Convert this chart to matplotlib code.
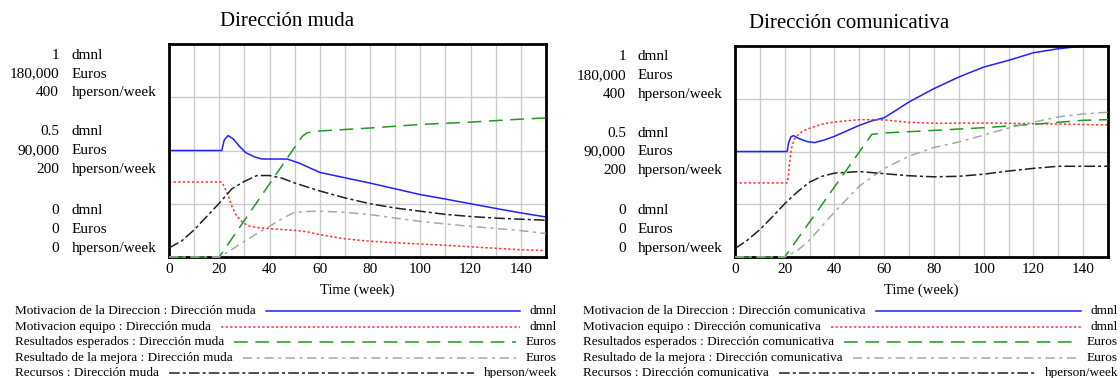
import matplotlib.pyplot as plt
from matplotlib import lines, transforms

plt.rcParams['font.family'] = ['Liberation Serif', 'DejaVu Serif']

# ---- data: Dirección muda ----
t_dir_muda = [0, 21, 22, 23.5, 25.5, 28, 30.5, 34, 37, 47, 52, 60, 70, 80, 90, 100, 110, 120, 130, 140, 150]
motiv_dir_muda = [0.5, 0.5, 0.55, 0.57, 0.555, 0.52, 0.49, 0.47, 0.46, 0.46, 0.44, 0.397, 0.372, 0.347,
                  0.32, 0.293, 0.272, 0.25, 0.228, 0.207, 0.188]
t_eq_muda = [0, 21, 22, 23.5, 25, 27, 29.5, 32, 36, 40, 50, 55, 60, 65, 70, 80, 90, 100, 110, 120, 130, 140, 150]
motiv_eq_muda = [0.352, 0.352, 0.33, 0.29, 0.238, 0.19, 0.16, 0.145, 0.137, 0.133, 0.125, 0.118, 0.105,
                 0.095, 0.085, 0.074, 0.067, 0.061, 0.055, 0.048, 0.041, 0.034, 0.03]
t_res_muda = [0, 20, 53, 55, 60, 80, 100, 120, 140, 150]
res_esp_muda = [0, 0, 102000, 105000, 106500, 109000, 112000, 114000, 116500, 117500]
t_mej_muda = [0, 20, 25, 30, 35, 40, 45, 50, 55, 60, 70, 80, 90, 100, 110, 120, 130, 140, 150]
res_mej_muda = [0, 0, 6300, 13300, 19800, 25900, 32400, 37800, 38500, 38700, 37800, 35800, 32900,
                30100, 27900, 25900, 24100, 22300, 19800]
t_rec_muda = [0, 5, 10, 15, 20, 25, 30, 35, 40, 45, 50, 60, 70, 80, 90, 100, 110, 120, 130, 140, 150]
recursos_muda = [17, 30, 51, 76, 101, 128, 142, 153, 153, 148, 139, 124, 111, 100, 92, 86, 80, 76, 73, 71, 69]

# ---- data: Dirección comunicativa ----
t_dir_com = [0, 21, 21.5, 22.5, 23.5, 26, 29, 32, 36, 40, 45, 50, 55, 60, 65, 70, 80, 90, 100, 110,
             120, 130, 140, 150]
motiv_dir_com = [0.5, 0.5, 0.54, 0.57, 0.575, 0.56, 0.547, 0.542, 0.555, 0.572, 0.598, 0.624, 0.645,
                 0.66, 0.697, 0.735, 0.798, 0.853, 0.9, 0.932, 0.968, 0.987, 1.0, 1.0]
t_eq_com = [0, 21, 21.5, 22, 22.5, 23, 24, 25, 27, 30, 35, 40, 50, 60, 70, 80, 100, 120, 150]
motiv_eq_com = [0.351, 0.351, 0.39, 0.45, 0.5, 0.53, 0.56, 0.575, 0.595, 0.61, 0.63, 0.64, 0.651,
                0.65, 0.638, 0.634, 0.635, 0.632, 0.626]
t_res_com = [0, 20, 55, 60, 80, 100, 120, 140, 150]
res_esp_com = [0, 0, 104600, 105800, 108000, 110300, 113200, 116600, 117200]
t_mej_com = [0, 20, 25, 30, 40, 50, 60, 70, 80, 90, 100, 110, 120, 130, 140, 150]
res_mej_com = [0, 0, 5400, 14500, 38300, 60500, 75500, 86000, 93500, 98100, 104000, 110000, 115000,
               119500, 122000, 123500]
t_rec_com = [0, 5, 10, 15, 20, 25, 30, 35, 40, 50, 60, 70, 80, 90, 100, 110, 120, 130, 140, 150]
recursos_com = [16, 32, 52, 76, 101, 123, 142, 153, 159, 162, 158, 154, 152, 153, 157, 163, 168, 172, 172, 172]

units = ['dmnl', 'Euros', 'hperson/week']
ticks_dmnl = [0, 0.5, 1]
ticks_euros = [0, 90000, 180000]
ticks_hperson = [0, 200, 400]

var_names = ['Motivacion de la Direccion', 'Motivacion equipo', 'Resultados esperados',
             'Resultado de la mejora', 'Recursos']
var_units = ['dmnl', 'dmnl', 'Euros', 'Euros', 'hperson/week']
colors = ['#2020ff', '#ff3030', '#229922', '#a8a8a8', '#202020']
styles = ['-', (0, (1.5, 1.5)), (0, (9, 5)), (0, (6, 3, 2, 3)), (0, (7, 2, 2, 2))]

W, H = 1120, 378
fig = plt.figure(figsize=(11.2, 3.78), dpi=100)


def fx(px):
    return px / W


def fy(py):
    return 1 - py / H


def panel(rect, title, title_xy, num_x, unit_x, time_x, leg_x0, leg_x1, series, scen):
    ax = fig.add_axes(rect)
    ax_e = ax.twinx()
    ax_h = ax.twinx()
    ax.set_xlim(0, 150)
    ax.set_ylim(0, 1)
    ax_e.set_ylim(0, 180000)
    ax_h.set_ylim(0, 400)
    for a in (ax_e, ax_h):
        a.set_axis_off()
    ax.set_xticks(range(0, 151, 10), minor=True)
    ax.set_xticks(range(0, 141, 20))
    ax.set_yticks([0.25, 0.5, 0.75])
    ax.set_yticklabels([])
    ax.tick_params(axis='y', length=0)
    ax.tick_params(axis='x', which='both', length=0, labelsize=11, pad=4)
    ax.grid(True, which='both', color='#cccccc', lw=1)
    for s in ax.spines.values():
        s.set_linewidth(2)
        s.set_color('black')

    targets = [ax, ax, ax_e, ax_e, ax_h]
    for (t, v), a, c, ls in zip(series, targets, colors, styles):
        a.plot(t, v, color=c, linestyle=ls, lw=1.1, clip_on=False)

    fig.text(title_xy[0], title_xy[1], title, ha='center', va='center', fontsize=15)

    # stacked axis labels
    trans = transforms.blended_transform_factory(fig.transFigure, ax.transAxes)
    centers = [0.131, 0.498, 0.859]
    for i, c in enumerate(centers):
        vals = [ticks_dmnl[i], ticks_euros[i], ticks_hperson[i]]
        for j, (val, u) in enumerate(zip(vals, units)):
            yy = c + (1 - j) * 0.089
            txt = '{:,}'.format(val) if val != 0.5 else '0.5'
            fig.text(fx(num_x), yy, txt, transform=trans, ha='right', va='center', fontsize=11)
            fig.text(fx(unit_x), yy, u, transform=trans, ha='left', va='center', fontsize=11)

    fig.text(fx(time_x), fy(290), 'Time (week)', ha='center', va='center', fontsize=10.5)

    # legend rows
    rows_y = [311, 327, 342, 358, 373]
    fig.canvas.draw()
    r = fig.canvas.get_renderer()
    for name, u, c, ls, y in zip(var_names, var_units, colors, styles, rows_y):
        lab = fig.text(fx(leg_x0), fy(y), name + ' : ' + scen, ha='left', va='center', fontsize=9.5)
        ut = fig.text(fx(leg_x1), fy(y), u, ha='right', va='center', fontsize=9.5)
        b1 = lab.get_window_extent(r)
        b2 = ut.get_window_extent(r)
        x0 = b1.x1 + 10
        x1 = b2.x0 - 10
        fig.add_artist(lines.Line2D([x0 / W, x1 / W], [fy(y), fy(y)], color=c, linestyle=ls,
                                    lw=1.1, transform=fig.transFigure))


panel([fx(169), fy(257), fx(546) - fx(169), (257 - 44) / H], 'Dirección muda', (fx(287), fy(22)),
      59, 72, 357, 15, 557,
      [(t_dir_muda, motiv_dir_muda), (t_eq_muda, motiv_eq_muda), (t_res_muda, res_esp_muda),
       (t_mej_muda, res_mej_muda), (t_rec_muda, recursos_muda)], 'Dirección muda')
panel([fx(735), fy(257), fx(1108) - fx(735), (257 - 46) / H], 'Dirección comunicativa', (fx(849), fy(23)),
      626, 638, 921, 583, 1118,
      [(t_dir_com, motiv_dir_com), (t_eq_com, motiv_eq_com), (t_res_com, res_esp_com),
       (t_mej_com, res_mej_com), (t_rec_com, recursos_com)], 'Dirección comunicativa')

fig.savefig('out.png', dpi=100)
